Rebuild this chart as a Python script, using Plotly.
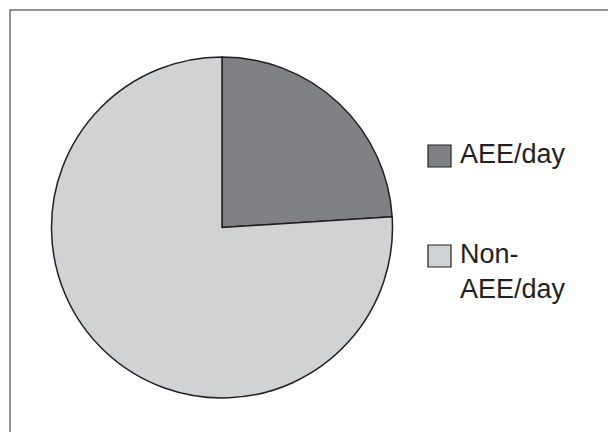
import plotly.graph_objects as go

labels = ["AEE/day", "Non-AEE/day"]
legend_texts = ["AEE/day", "Non-<br>AEE/day"]
values = [24, 76]
colors = ["#808184", "#d1d2d4"]

W, H = 616, 432
OFF = 8  # page body margin offset
cx, cy, r = 222 - OFF, 227.5 - OFF, 170.5

fig = go.Figure(go.Pie(
    labels=labels, values=values, sort=False, direction="clockwise", rotation=0,
    marker=dict(colors=colors, line=dict(color="#231f20", width=1.5)),
    textinfo="none", hoverinfo="label+percent", showlegend=False,
    domain=dict(x=[(cx - r) / W, (cx + r) / W], y=[(H - cy - r) / H, (H - cy + r) / H]),
))

shapes = [dict(type="rect", xref="paper", yref="paper",
               x0=(10 - OFF) / W, x1=1.05, y0=-0.05, y1=1 - (10 - OFF) / H,
               line=dict(color="#707070", width=1.5), fillcolor="rgba(0,0,0,0)")]
annotations = []
sq_tops = [145 - OFF, 245 - OFF]
for i, (txt, col) in enumerate(zip(legend_texts, colors)):
    t = sq_tops[i]
    shapes.append(dict(type="rect", xref="paper", yref="paper",
                       x0=(428 - OFF) / W, x1=(451 - OFF) / W, y0=1 - (t + 22) / H, y1=1 - t / H,
                       fillcolor=col, line=dict(color="#231f20", width=1.2)))
    annotations.append(dict(xref="paper", yref="paper", x=(458 - OFF) / W, y=1 - (t - 8) / H,
                            xanchor="left", yanchor="top", align="left", showarrow=False,
                            text=txt, font=dict(family="Liberation Sans, Arial, sans-serif",
                                                size=27, color="#231f20")))

fig.update_layout(width=W, height=H, margin=dict(l=0, r=0, t=0, b=0),
                  paper_bgcolor="white", plot_bgcolor="white",
                  shapes=shapes, annotations=annotations)
fig.write_html("out.html")
